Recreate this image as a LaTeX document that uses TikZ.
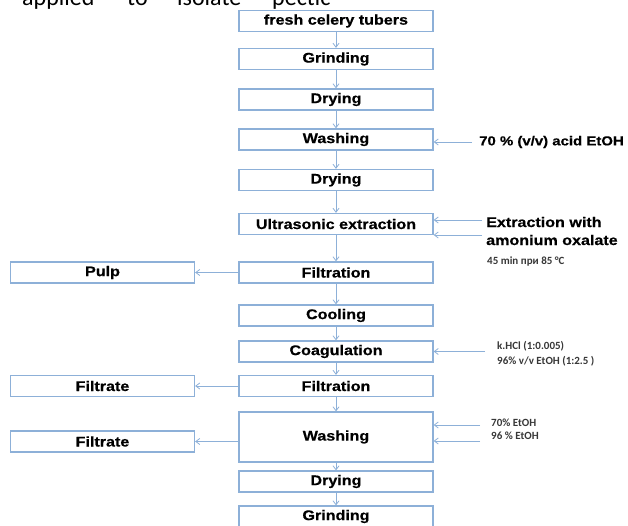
\documentclass[tikz,border=0pt]{standalone}
\usepackage{fontspec}
\setmainfont{Liberation Sans}
\newfontfamily\boxfont[FakeStretch=1.15, FakeBold=0.5]{Liberation Sans}
\newfontfamily\notefont{Carlito}
\usetikzlibrary{arrows.meta}
\definecolor{flowblue}{RGB}{141,176,216}
\definecolor{notegray}{RGB}{55,55,55}
\tikzset{
	stage/.style={draw=flowblue, line width=1.2pt, minimum width=194pt, minimum height=21pt, inner sep=0pt, font=\boxfont\bfseries\fontsize{14}{16}\selectfont},
	sidebox/.style={stage, minimum width=184pt},
	feed/.style={draw=flowblue, line width=0.8pt, -{Straight Barb[length=4pt,width=6pt]}},
	reagent/.style={anchor=west, inner sep=0pt, align=left, font=\boxfont\bfseries\fontsize{14}{18}\selectfont},
	note/.style={anchor=west, inner sep=0pt, align=left, text=notegray, font=\notefont\bfseries\fontsize{11}{15}\selectfont},
	word/.style={anchor=base west, inner sep=0pt, font=\notefont\fontsize{24}{28}\selectfont}
}

\begin{document}
\begin{tikzpicture}[x=1pt, y=-1pt]
			%%%%% START %%%%%
			\useasboundingbox (0, 0) rectangle (628, 525);
			
			\node[word] (w1) at (22, 5) {applied};
			\node[word] (w2) at (127, 5) {to};
			\node[word] (w3) at (177, 5) {isolate};
			\node[word] (w4) at (272, 5) {pectic};
			
			\node[stage] (fresh) at (336, 21) {fresh celery tubers};
			\node[stage] (grind1) at (336, 59) {Grinding};
			\node[stage] (dry1) at (336, 99.5) {Drying};
			\node[stage] (wash1) at (336, 139.5) {Washing};
			\node[stage] (dry2) at (336, 180) {Drying};
			\node[stage] (ultra) at (336, 224) {Ultrasonic extraction};
			\node[stage] (filt1) at (336, 272.5) {Filtration};
			\node[stage] (cool) at (336, 315.5) {Cooling};
			\node[stage] (coag) at (336, 351.5) {Coagulation};
			\node[stage] (filt2) at (336, 386) {Filtration};
			\node[stage, minimum height=50pt] (wash2) at (336, 437) {Washing};
			\node[stage] (dry3) at (336, 481.5) {Drying};
			\node[stage] (grind2) at (336, 516.5) {Grinding};
			
			\node[sidebox] (pulp) at (102.5, 272.5) {Pulp};
			\node[sidebox] (filtrA) at (102.5, 386) {Filtrate};
			\node[sidebox] (filtrB) at (102.5, 441.5) {Filtrate};
			
			\draw[feed] (fresh) -- (grind1);
			\draw[feed] (grind1) -- (dry1);
			\draw[feed] (dry1) -- (wash1);
			\draw[feed] (wash1) -- (dry2);
			\draw[feed] (dry2) -- (ultra);
			\draw[feed] (ultra) -- (filt1);
			\draw[feed] (filt1) -- (cool);
			\draw[feed] (cool) -- (coag);
			\draw[feed] (coag) -- (filt2);
			\draw[feed] (filt2) -- (wash2);
			\draw[feed] (wash2) -- (dry3);
			\draw[feed] (dry3) -- (grind2);
			
			\draw[feed] (filt1.west) -- (pulp.east);
			\draw[feed] (filt2.west) -- (filtrA.east);
			\draw[feed] (wash2.west |- filtrB.east) -- (filtrB.east);
			
			% reagents on the right
			\node[reagent, font=\boxfont\bfseries\fontsize{13}{16}\selectfont] (acid) at (479, 142) {70 \% (v/v) acid EtOH};
			\coordinate (acidin) at (472, 142);
			\draw[feed] (acidin) -- (acidin -| wash1.east);
			
			\node[reagent] (oxal) at (486, 231) {Extraction with\\amonium oxalate};
			\node[note] (cond) at (487, 261) {45 min при 85 °C};
			\coordinate (oxinA) at (482, 220);
			\coordinate (oxinB) at (482, 235);
			\draw[feed] (oxinA) -- (oxinA -| ultra.east);
			\draw[feed] (oxinB) -- (oxinB -| ultra.east);
			
			\node[note] (hcl) at (497, 353.5) {k.HCl (1:0.005)\\96\% v/v EtOH (1:2.5 )};
			\coordinate (hclin) at (485, 351.5);
			\draw[feed] (hclin) -- (hclin -| coag.east);
			
			\node[note, font=\notefont\bfseries\fontsize{11}{13}\selectfont] (etoh) at (491, 429.5) {70\% EtOH\\96 \% EtOH};
			\coordinate (etinA) at (480, 425);
			\coordinate (etinB) at (480, 441);
			\draw[feed] (etinA) -- (etinA -| wash2.east);
			\draw[feed] (etinB) -- (etinB -| wash2.east);
			
			%%%%% END %%%%%
\end{tikzpicture}
\end{document}
